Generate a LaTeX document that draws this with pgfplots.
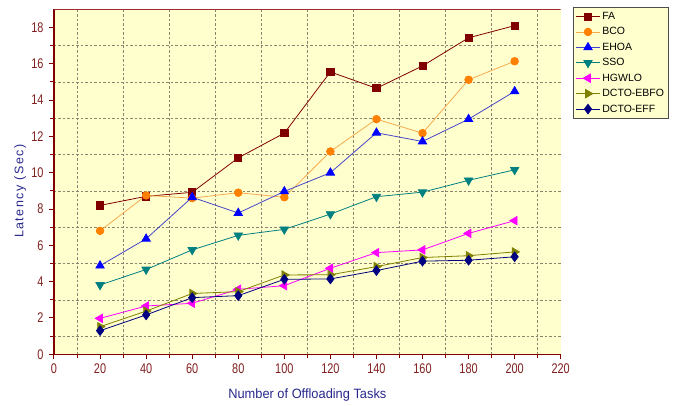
\documentclass[border=0pt]{standalone}
\usepackage{pgfplots}
\pgfplotsset{compat=1.18}
\usepackage{fontspec}
\setmainfont{Liberation Sans}
\newfontfamily\narrowfont[FakeStretch=0.78]{Liberation Sans}
\newfontfamily\ylabfont[LetterSpace=12]{Liberation Sans}
\definecolor{bgyel}{RGB}{255,255,206}
\definecolor{axred}{RGB}{128,0,0}
\definecolor{topred}{RGB}{160,48,48}
\definecolor{ticklab}{RGB}{128,32,32}
\definecolor{labblue}{RGB}{40,40,140}
\definecolor{cFA}{RGB}{128,0,0}
\definecolor{cBCOm}{RGB}{255,128,0}
\definecolor{cBCOl}{RGB}{245,170,80}
\definecolor{cEHOAm}{RGB}{0,0,255}
\definecolor{cEHOAl}{RGB}{70,70,200}
\definecolor{cSSO}{RGB}{0,128,128}
\definecolor{cHGW}{RGB}{255,0,255}
\definecolor{cEBFO}{RGB}{128,128,0}
\definecolor{cEFF}{RGB}{0,0,128}
\definecolor{gridc}{RGB}{140,130,110}
\begin{document}
\begin{tikzpicture}
\begin{axis}[
  name=ax,
  scale only axis,
  width=506.7pt, height=345pt,
  xmin=0, xmax=220, ymin=0, ymax=19,
  xtick={0,20,...,220}, ytick={0,2,...,18},
  minor x tick num=1, minor y tick num=1,
  axis x line*=bottom, axis y line*=left,
  axis line style={-, draw=axred, line width=1.6pt},
  tick style={draw=axred, line width=1pt},
  tick align=outside,
  major tick length=5pt, minor tick length=4pt,
  minor grid style={dashed, dash pattern=on 2.5pt off 2pt, draw=gridc, line width=0.6pt},
  grid=minor,
  axis background/.style={fill=bgyel},
  /pgf/number format/assume math mode=true,
  ticklabel style={font=\narrowfont\fontsize{14}{15}\selectfont, text=ticklab},
  xticklabel style={yshift=-1pt},
  yticklabel style={xshift=-2pt},
  xlabel={Number of Offloading Tasks},
  ylabel={Latency (Sec)},
  xlabel style={font=\addfontfeatures{FakeStretch=0.95}\fontsize{13.5}{15}\selectfont, text=labblue, at={(axis description cs:0.5,-0.118)}, anchor=center},
  ylabel style={font=\ylabfont\fontsize{12.5}{14}\selectfont, text=labblue, at={(axis description cs:-0.067,0.473)}, anchor=center},
  legend style={at={(1,1)}, anchor=north west, xshift=12pt, yshift=2pt,
    draw=black!70, fill=bgyel, line width=0.8pt,
    font=\fontsize{10.5}{12}\selectfont, row sep=2.6pt, inner sep=2.5pt},
  legend cell align=left,
  legend image code/.code={\draw[mark repeat=2,mark phase=2] plot coordinates {(0pt,0pt) (12pt,0pt) (24pt,0pt)};},
  every axis plot/.append style={line width=0.8pt},
]
\addplot[color=cFA, mark=square*, mark size=3.6pt, mark options={fill=cFA, draw=cFA}] coordinates {
(20,8.2) (40,8.7) (60,8.92) (80,10.82) (100,12.18) (120,15.55) (140,14.65) (160,15.88) (180,17.43) (200,18.1)};
\addlegendentry{FA}
\addplot[color=cBCOl, mark=*, mark size=3.8pt, mark options={fill=cBCOm, draw=cBCOm}] coordinates {
(20,6.8) (40,8.75) (60,8.6) (80,8.9) (100,8.65) (120,11.17) (140,12.95) (160,12.18) (180,15.12) (200,16.14)};
\addlegendentry{BCO}
\addplot[color=cEHOAl, mark=triangle*, mark size=4.8pt, mark options={fill=cEHOAm, draw=cEHOAm}] coordinates {
(20,4.88) (40,6.36) (60,8.65) (80,7.78) (100,8.97) (120,10.0) (140,12.2) (160,11.72) (180,12.95) (200,14.48)};
\addlegendentry{EHOA}
\addplot[color=cSSO, mark=triangle*, mark size=4.8pt, mark options={fill=cSSO, draw=cSSO, rotate=180}] coordinates {
(20,3.82) (40,4.67) (60,5.75) (80,6.55) (100,6.88) (120,7.72) (140,8.68) (160,8.93) (180,9.58) (200,10.16)};
\addlegendentry{SSO}
\addplot[color=cHGW, mark=triangle*, mark size=4.8pt, mark options={fill=cHGW, draw=cHGW, rotate=90}] coordinates {
(20,1.98) (40,2.66) (60,2.81) (80,3.58) (100,3.78) (120,4.74) (140,5.6) (160,5.75) (180,6.66) (200,7.36)};
\addlegendentry{HGWLO}
\addplot[color=cEBFO, mark=triangle*, mark size=4.8pt, mark options={fill=cEBFO, draw=cEBFO, rotate=-90}] coordinates {
(20,1.52) (40,2.38) (60,3.35) (80,3.45) (100,4.37) (120,4.38) (140,4.83) (160,5.33) (180,5.43) (200,5.64)};
\addlegendentry{DCTO-EBFO}
\addplot[color=cEFF, mark=diamond*, mark size=4.8pt, mark options={fill=cEFF, draw=cEFF}] coordinates {
(20,1.3) (40,2.17) (60,3.12) (80,3.23) (100,4.13) (120,4.15) (140,4.61) (160,5.13) (180,5.18) (200,5.37)};
\addlegendentry{DCTO-EFF}
\draw[topred, line width=1pt] (rel axis cs:0,1) -- (rel axis cs:1,1);
\end{axis}
\pgfresetboundingbox
\path[use as bounding box] ([shift={(-54pt,-50.7pt)}]ax.south west) rectangle ++(673pt,405pt);
\end{tikzpicture}
\end{document}
